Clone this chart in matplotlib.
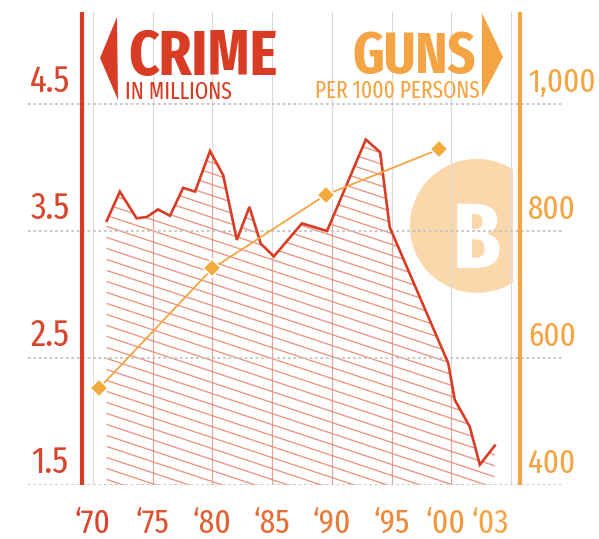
import os
import matplotlib
matplotlib.use("Agg")
import matplotlib.pyplot as plt
import matplotlib.font_manager as fm
from matplotlib.patches import Polygon, Ellipse, Rectangle
from matplotlib.collections import LineCollection
from matplotlib.transforms import blended_transform_factory, ScaledTranslation
from matplotlib.colors import to_rgb

# crime in millions (line vertices)
crime_years = [1971.15, 1972.25, 1973.65, 1974.5, 1975.45, 1976.45, 1977.55, 1978.55,
               1979.8, 1980.9, 1982.05, 1983.1, 1984.05, 1985.15, 1987.5, 1989.6,
               1992.85, 1994.05, 1994.85, 1999.75, 2000.3, 2001.55, 2002.4, 2003.65]
crime_values = [3.58, 3.81, 3.60, 3.61, 3.67, 3.62, 3.84, 3.81,
                4.13, 3.94, 3.43, 3.69, 3.40, 3.30, 3.56, 3.50,
                4.22, 4.12, 3.53, 2.46, 2.17, 1.96, 1.66, 1.81]

# guns per 1000 persons
gun_years = [1970.5, 1980, 1989.5, 1999]
gun_values = [552, 741, 857, 929]

crime_ticks = [1.5, 2.5, 3.5, 4.5]
crime_tick_labels = ["1.5", "2.5", "3.5", "4.5"]
gun_ticks = [400, 600, 800, 1000]
gun_tick_labels = ["400", "600", "800", "1,000"]
year_ticks = [1970, 1975, 1980, 1985, 1990, 1995, 2000, 2003]
year_labels = ["‘70", "‘75", "‘80", "‘85", "‘90", "‘95", "‘00", "‘03"]
grid_years = [1970, 1975, 1980, 1985, 1990, 1995, 2000, 2005]

RED = "#D83C25"
RED_TXT = "#D9462D"
ORANGE = "#F4A443"
ORANGE_DOT = "#F4AB3D"
PEACH = "#FAD8AC"
HATCH = "#E8907A"
GRID = "#DADADA"


def condensed_font(bold):
    """pick the narrowest installed sans face, falls back to DejaVu Sans"""
    target = 700 if bold else 400
    best = None
    for f in fm.fontManager.ttflist:
        key = (f.name + os.path.basename(f.fname)).lower()
        key = key.replace(" ", "").replace("-", "").replace("_", "")
        if f.style != "normal" or "italic" in key or "mono" in key or "serif" in key:
            continue
        if "extracondensed" in key or "ultracondensed" in key:
            level = 3
        elif "semicondensed" in key:
            level = 1
        elif "cond" in key or "narrow" in key or "compressed" in key:
            level = 2
        else:
            continue
        try:
            w = int(f.weight)
        except (TypeError, ValueError):
            w = fm.weight_dict.get(str(f.weight), 400)
        score = (level, -abs(w - target))
        if best is None or score > best[0]:
            best = (score, f.fname)
    if best is None:
        return fm.FontProperties(family="DejaVu Sans", weight="bold" if bold else "normal")
    return fm.FontProperties(fname=best[1])


font_reg = condensed_font(False)
font_bold = condensed_font(True)

W, H = 599, 539
fig = plt.figure(figsize=(W / 100, H / 100), dpi=100)
renderer = fig.canvas.get_renderer()

# axes spans pixels x 28..563, y 12..485 (from top)
ax = fig.add_axes([28 / W, (H - 485) / H, 535 / W, 473 / H])
px_per_year = 11.94
px_per_unit = 127.0
x0 = 1970 + (28 - 93) / px_per_year
x1 = 1970 + (563 - 93) / px_per_year
y_top = 1.5 + 473 / px_per_unit
ax.set_xlim(x0, x1)
ax.set_ylim(1.5, y_top)
ax.axis("off")

ax2 = ax.twinx()
ax2.set_ylim(400, 400 + (y_top - 1.5) * 200)
ax2.axis("off")

# background circle with the B
circle = Ellipse((2002.15, 3.54), 134 / px_per_year, 134 / px_per_unit,
                 facecolor=PEACH, edgecolor="none", zorder=0)
ax.add_patch(circle)
circle.set_clip_path(Rectangle((1990, 1.5), 15.15, 4, transform=ax.transData))

# grid
for yr in grid_years:
    ax.axvline(yr, color=GRID, lw=0.8, zorder=1)
for v in crime_ticks:
    ax.axhline(v, color="#C4C4C4", lw=1.3, ls=(0, (1.5, 1.5)), zorder=4)

# axis bars
ax.axvline(1969.1, color=RED, lw=3, zorder=6)
ax.axvline(2005.8, color=ORANGE, lw=3, zorder=6)

# hatched area under the crime line
verts = [(crime_years[0], 1.5)] + list(zip(crime_years, crime_values)) + [(crime_years[-1], 1.5)]
area = Polygon(verts, closed=True, facecolor="none", edgecolor="none", transform=ax.transData)
ax.add_patch(area)
k = -(1 / 3) * (px_per_year / px_per_unit)
step = 11 / px_per_unit
segs = []
c = 0.8
while c < 7.0:
    segs.append([(1964, c + k * (1964 - 1970)), (2010, c + k * (2010 - 1970))])
    c += step
hatch = LineCollection(segs, colors=HATCH, linewidths=0.9, zorder=2)
ax.add_collection(hatch)
hatch.set_clip_path(area)
vsegs = [[(yr, 1.5), (yr, 5)] for yr in grid_years]
vgrid = LineCollection(vsegs, colors=HATCH, linewidths=0.8, zorder=2, alpha=0.7)
ax.add_collection(vgrid)
vgrid.set_clip_path(area)

ax.plot(crime_years, crime_values, color=RED, lw=1.9, solid_joinstyle="miter", zorder=5)

ax2.plot(gun_years, gun_values, color=ORANGE, lw=1.3, zorder=6,
         marker="D", ms=9, mfc=ORANGE_DOT, mec="white", mew=1.2)


def fit(texts, w_px, h_px, slack=1.15):
    size = h_px / 0.72 * 72 / fig.dpi
    for t in texts:
        t.set_fontsize(size)
    widest = max(t.get_window_extent(renderer).width for t in texts)
    if widest > w_px * slack:
        size = size * w_px * slack / widest
        for t in texts:
            t.set_fontsize(size)


# tick labels
lift = ScaledTranslation(0, 12 / 100, fig.dpi_scale_trans)
left_x = 1970 + (50 - 93) / px_per_year
right_x = 1970 + (528 - 93) / px_per_year
lt = [ax.text(left_x, v, s, ha="center", va="baseline", color=RED_TXT,
              fontproperties=font_reg, transform=ax.transData + lift)
      for v, s in zip(crime_ticks, crime_tick_labels)]
rt = [ax2.text(right_x, v, s, ha="left", va="baseline", color=ORANGE,
               fontproperties=font_reg, transform=ax2.transData + lift)
      for v, s in zip(gun_ticks, gun_tick_labels)]
fit(lt, 35, 31)
fit(rt, 59, 31)

# year labels, red fading into orange; the last two pushed apart a little as in the original
r0, r1 = to_rgb(RED_TXT), to_rgb(ORANGE)
bt = blended_transform_factory(ax.transData, ax.transAxes)
nudge = {2000: -6, 2003: 3}
yt = []
for i, (yr, s) in enumerate(zip(year_ticks, year_labels)):
    f = i / (len(year_ticks) - 1)
    col = tuple(a + (b - a) * f for a, b in zip(r0, r1))
    shift = ScaledTranslation(nudge.get(yr, 0) / 100, 0, fig.dpi_scale_trans)
    yt.append(ax.text(yr, -48 / 473, s, ha="center", va="baseline", color=col,
                      fontproperties=font_reg, transform=bt + shift))
fit(yt, 40, 31, slack=1.0)

# big B
b = ax.text(2002.15, 1.5 + (485 - 268) / px_per_unit, "B", ha="center", va="baseline",
            color="white", fontproperties=font_bold, zorder=1)
fit([b], 33, 85, slack=1.45)


def fx(x, y):
    return x / W, 1 - y / H


# titles
t1 = fig.text(*fx(128, 75), "CRIME", ha="left", va="baseline", color=RED,
              fontproperties=font_bold)
fit([t1], 115, 62, slack=1.3)
t2 = fig.text(*fx(125, 99), "IN MILLIONS", ha="left", va="baseline", color=RED,
              fontproperties=font_reg)
fit([t2], 93, 19, slack=1.15)
t3 = fig.text(*fx(476, 73), "GUNS", ha="right", va="baseline", color=ORANGE,
              fontproperties=font_bold)
fit([t3], 95, 62, slack=1.3)
t4 = fig.text(*fx(480, 98), "PER 1000 PERSONS", ha="right", va="baseline", color=ORANGE,
              fontproperties=font_reg)
fit([t4], 157, 19, slack=1.05)

fig.add_artist(Polygon([fx(100, 58), fx(117, 17), fx(118, 100)], closed=True,
                       facecolor=RED, edgecolor="none", transform=fig.transFigure))
fig.add_artist(Polygon([fx(482, 13), fx(503, 57), fx(482, 97)], closed=True,
                       facecolor=ORANGE, edgecolor="none", transform=fig.transFigure))

fig.savefig("out.png", dpi=100, facecolor="white")
